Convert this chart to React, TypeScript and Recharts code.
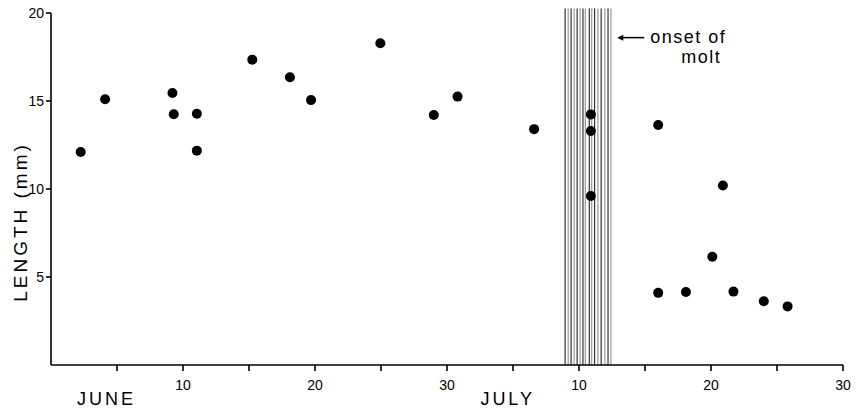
import React from "react";
import {
  ScatterChart,
  Scatter,
  XAxis,
  YAxis,
  ReferenceLine,
  ReferenceDot,
} from "recharts";

// day counted from May 31 (June 10 = 10, July 10 = 40)
const sampleDay = [
  2.25, 4.1, 9.2, 9.3, 11.05, 11.05, 15.25, 18.1, 19.7, 24.95, 29.0, 30.8,
  36.6, 40.9, 40.9, 40.9, 46.0, 50.9, 50.1, 46.0, 48.1, 51.7, 54.0, 55.8,
];
const sampleLength = [
  12.1, 15.1, 15.45, 14.25, 14.28, 12.18, 17.35, 16.35, 15.05, 18.28, 14.2,
  15.25, 13.4, 14.24, 13.3, 9.6, 13.64, 10.2, 6.15, 4.1, 4.15, 4.17, 3.62,
  3.33,
];

const xTicks = [5, 10, 15, 20, 25, 30, 35, 40, 45, 50, 55, 60];
const xTickLabels = ["", "10", "", "20", "", "30", "", "10", "", "20", "", "30"];
const yTicks = [5, 10, 15, 20];

// vertical hatching marking the molt period
const moltLines = [
  38.95, 39.18, 39.4, 39.63, 39.86, 40.09, 40.3, 40.48, 40.78, 40.96, 41.18,
  41.43, 41.68, 41.96, 42.2, 42.42,
];
const moltTop = 20.25;

const months = [
  { label: "JUNE", day: 4.2 },
  { label: "JULY", day: 34.6 },
];

const data = sampleDay.map((d, i) => ({ day: d, length: sampleLength[i] }));

const FONT = '"Liberation Sans", Arial, Helvetica, sans-serif';

function Dot(props: any) {
  const { cx, cy } = props;
  return <circle cx={cx} cy={cy} r={5} fill="#000" />;
}

function YTitle(props: any) {
  const { viewBox } = props;
  if (!viewBox) return null;
  const x = viewBox.x + 9;
  const y = viewBox.y + viewBox.height / 2 + 33;
  return (
    <text
      x={x}
      y={y}
      transform={`rotate(-90, ${x}, ${y})`}
      textAnchor="middle"
      dominantBaseline="central"
      fontFamily={FONT}
      fontSize={19}
      letterSpacing={3}
      fill="#000"
    >
      LENGTH  (mm)
    </text>
  );
}

function MonthLabel(props: any) {
  const { cx, cy, label } = props;
  return (
    <text
      x={cx}
      y={cy + 40}
      textAnchor="middle"
      fontFamily={FONT}
      fontSize={18}
      letterSpacing={3}
      fill="#000"
    >
      {label}
    </text>
  );
}

function MoltNote(props: any) {
  const { cx, cy } = props;
  return (
    <g>
      <line x1={cx + 3} y1={cy} x2={cx + 27} y2={cy} stroke="#000" strokeWidth={1.5} />
      <path d={`M${cx},${cy} l6,-3 l0,6 z`} fill="#000" />
      <text
        x={cx + 33}
        y={cy + 5}
        fontFamily={FONT}
        fontSize={18}
        letterSpacing={1.5}
        fill="#000"
      >
        onset of
      </text>
      <text
        x={cx + 84}
        y={cy + 25}
        textAnchor="middle"
        fontFamily={FONT}
        fontSize={18}
        letterSpacing={1.5}
        fill="#000"
      >
        molt
      </text>
    </g>
  );
}

export default function App() {
  return (
    <div style={{ position: "absolute", left: 0, top: 0, background: "#fff" }}>
      <ScatterChart
        width={856}
        height={410}
        margin={{ top: 13, right: 13, bottom: 15, left: 11 }}
      >
        <XAxis
          type="number"
          dataKey="day"
          domain={[0, 60]}
          ticks={xTicks}
          tickFormatter={(v: number) => xTickLabels[xTicks.indexOf(v)] ?? ""}
          tick={{ fill: "#000", fontSize: 14, fontFamily: FONT }}
          tickSize={6}
          tickMargin={9}
          stroke="#000"
          strokeWidth={1.6}
          interval={0}
          height={30}
        />
        <YAxis
          type="number"
          dataKey="length"
          domain={[0, 20]}
          ticks={yTicks}
          width={40}
          tick={{ fill: "#000", fontSize: 14, fontFamily: FONT }}
          tickSize={5}
          tickMargin={2}
          stroke="#000"
          strokeWidth={1.6}
          label={<YTitle />}
        />
        {moltLines.map((d, i) => (
          <ReferenceLine
            key={i}
            segment={[
              { x: d, y: 0 },
              { x: d, y: moltTop },
            ]}
            stroke={i % 2 === 0 ? "#333" : "#999"}
            strokeWidth={1.2}
            ifOverflow="visible"
          />
        ))}
        <Scatter
          data={data}
          fill="#000"
          shape={Dot}
          isAnimationActive={false}
        />
        {months.map((m) => (
          <ReferenceDot
            key={m.label}
            x={m.day}
            y={0}
            ifOverflow="visible"
            shape={(p: any) => <MonthLabel {...p} label={m.label} />}
          />
        ))}
        <ReferenceDot
          x={42.9}
          y={18.6}
          ifOverflow="visible"
          shape={(p: any) => <MoltNote {...p} />}
        />
      </ScatterChart>
    </div>
  );
}
